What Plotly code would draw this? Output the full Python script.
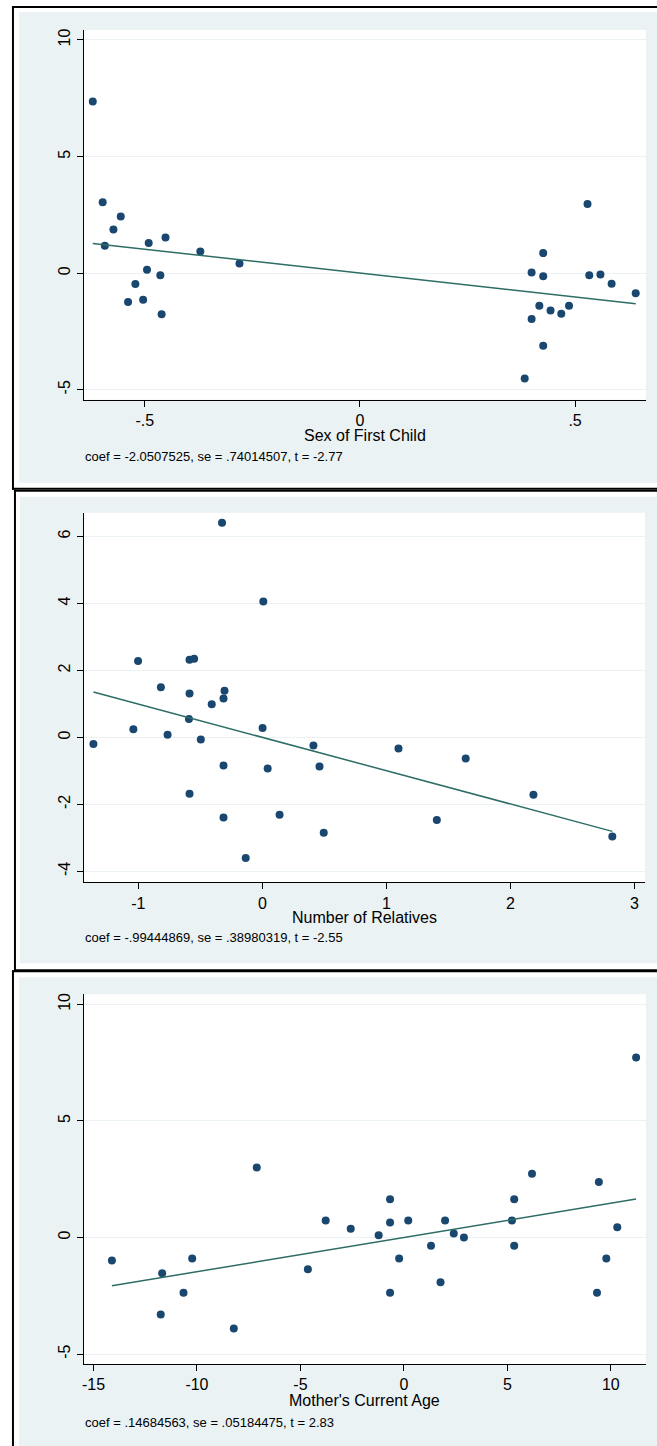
import numpy as np
import plotly.graph_objects as go

W, H = 657, 1446

# ---------------- data ----------------
sex_x = [-0.621, -0.598, -0.593, -0.573, -0.556, -0.491, -0.452, -0.371, -0.280,
         -0.495, -0.464, -0.522, -0.539, -0.504, -0.461,
         0.529, 0.426, 0.399, 0.426, 0.533, 0.559, 0.585, 0.641, 0.417,
         0.443, 0.468, 0.486, 0.399, 0.426, 0.383]
sex_y = [7.36, 3.04, 1.18, 1.87, 2.43, 1.29, 1.53, 0.93, 0.41,
         0.14, -0.09, -0.47, -1.24, -1.14, -1.76,
         2.97, 0.86, 0.03, -0.13, -0.09, -0.06, -0.45, -0.86, -1.40,
         -1.60, -1.74, -1.40, -1.97, -3.12, -4.52]
sex_coef = -2.0507525
sex_caption = "coef = -2.0507525, se = .74014507, t = -2.77"

rel_x = [-0.325, 0.008, -1.002, -0.587, -0.550, -0.818, -0.587, -0.305, -0.313,
         -0.408, -0.592, -1.040, -0.764, -0.496, -1.362, 0.002, 0.412, -0.313,
         0.043, 0.461, -0.587, 0.139, -0.313, 0.495, -0.134,
         1.098, 1.640, 2.186, 1.407, 2.822]
rel_y = [6.41, 4.06, 2.28, 2.32, 2.35, 1.50, 1.31, 1.39, 1.16,
         0.99, 0.55, 0.24, 0.08, -0.06, -0.20, 0.28, -0.24, -0.84,
         -0.93, -0.87, -1.68, -2.31, -2.39, -2.85, -3.60,
         -0.33, -0.63, -1.71, -2.47, -2.96]
rel_coef = -0.99444869
rel_caption = "coef = -.99444869, se = .38980319, t = -2.55"

age_x = [-14.11, -11.68, -10.23, -10.65, -11.75, -8.22, -7.11, -4.64, -3.78,
         -2.57, -1.22, -0.67, -0.67, -0.67, -0.23, 0.21, 1.31, 1.99, 2.41,
         2.90, 1.77, 5.22, 5.33, 5.33, 6.19, 9.42, 10.31, 9.78, 9.33, 11.22]
age_y = [-0.99, -1.54, -0.90, -2.37, -3.30, -3.90, 3.00, -1.36, 0.73,
         0.37, 0.09, 1.64, 0.64, -2.37, -0.90, 0.73, -0.36, 0.73, 0.17,
         0.00, -1.92, 0.73, 1.64, -0.36, 2.73, 2.38, 0.44, -0.90, -2.37, 7.72]
age_coef = 0.14684563
age_caption = "coef = .14684563, se = .05184475, t = 2.83"

x_titles = ["Sex of First Child", "Number of Relatives", "Mother's Current Age"]

sex_xticks = [-0.5, 0, 0.5]
sex_xtext = ["-.5", "0", ".5"]
rel_xticks = [-1, 0, 1, 2, 3]
rel_xtext = ["-1", "0", "1", "2", "3"]
age_xticks = [-15, -10, -5, 0, 5, 10]
age_xtext = ["-15", "-10", "-5", "0", "5", "10"]
y10_ticks = [-5, 0, 5, 10]
y6_ticks = [-4, -2, 0, 2, 4, 6]

# ---------------- style ----------------
BG = "#EAF2F3"
DOT = "#1A476F"
LINE = "#2D6D66"
FONT = "Liberation Sans, Arial, sans-serif"

def px(x):
    return x / W

def py(y):
    return 1 - y / H

panels = [
    dict(x=sex_x, y=sex_y, coef=sex_coef, cap=sex_caption, title=x_titles[0],
         xr=[-0.642, 0.665], yr=[-5.43, 10.43], xt=sex_xticks, xtt=sex_xtext, yt=y10_ticks,
         plot=(82, 646, 29, 399), title_y=435, cap_y=456),
    dict(x=rel_x, y=rel_y, coef=rel_coef, cap=rel_caption, title=x_titles[1],
         xr=[-1.44, 3.086], yr=[-4.33, 6.71], xt=rel_xticks, xtt=rel_xtext, yt=y6_ticks,
         plot=(82, 645, 512, 882), title_y=917, cap_y=937),
    dict(x=age_x, y=age_y, coef=age_coef, cap=age_caption, title=x_titles[2],
         xr=[-15.47, 11.70], yr=[-5.43, 10.43], xt=age_xticks, xtt=age_xtext, yt=y10_ticks,
         plot=(82, 646, 994, 1364), title_y=1400, cap_y=1422),
]

fig = go.Figure()
shapes = []
annotations = []

# backgrounds and frames (pixels)
bgs = [(17, 657, 11, 482), (18, 657, 496, 963), (17, 657, 977, 1446)]
for (x0, x1, y0, y1) in bgs:
    shapes.append(dict(type="rect", xref="paper", yref="paper", x0=px(x0), x1=px(x1),
                       y0=py(y1), y1=py(y0), fillcolor=BG, line=dict(width=0), layer="below"))
frames = [
    (10, 657, 5, 7), (10, 12, 5, 489), (10, 657, 487, 489),      # panel 1
    (12, 657, 489, 491), (12, 14, 489, 970), (12, 657, 969, 971),  # panel 2
    (10, 657, 970, 972), (10, 12, 970, 1446),                      # panel 3
]
for (x0, x1, y0, y1) in frames:
    shapes.append(dict(type="rect", xref="paper", yref="paper", x0=px(x0), x1=px(x1),
                       y0=py(y1), y1=py(y0), fillcolor="#000000", line=dict(width=0), layer="below"))

for i, p in enumerate(panels, start=1):
    xa = "x" if i == 1 else f"x{i}"
    ya = "y" if i == 1 else f"y{i}"
    xs = np.array(p["x"])
    lx = np.array([xs.min(), xs.max()])
    ly = p["coef"] * lx
    fig.add_trace(go.Scatter(x=xs, y=p["y"], mode="markers", xaxis=xa, yaxis=ya,
                             marker=dict(color=DOT, size=8, line=dict(width=0)),
                             showlegend=False, hoverinfo="x+y"))
    fig.add_trace(go.Scatter(x=lx, y=ly, mode="lines", xaxis=xa, yaxis=ya,
                             line=dict(color=LINE, width=1.5), showlegend=False))
    x0, x1, y0, y1 = p["plot"]
    # white plot region
    shapes.append(dict(type="rect", xref="paper", yref="paper", x0=px(x0), x1=px(x1),
                       y0=py(y1), y1=py(y0), fillcolor="white", line=dict(width=0), layer="below"))
    axis_common = dict(showline=True, linecolor="#000000", linewidth=1, ticks="outside",
                       ticklen=6, tickcolor="#000000", tickwidth=1, zeroline=False,
                       tickfont=dict(family=FONT, size=16, color="#000000"))
    fig.layout[("xaxis" if i == 1 else f"xaxis{i}")] = dict(
        domain=[px(x0), px(x1)], range=p["xr"], anchor=ya, showgrid=False,
        tickvals=p["xt"], ticktext=p["xtt"], **axis_common)
    fig.layout[("yaxis" if i == 1 else f"yaxis{i}")] = dict(
        domain=[py(y1), py(y0)], range=p["yr"], anchor=xa, showgrid=True,
        gridcolor=BG, gridwidth=1, tickvals=p["yt"], ticktext=[str(v) for v in p["yt"]],
        tickangle=-90, **axis_common)
    annotations.append(dict(text=p["title"], xref="paper", yref="paper",
                            x=px((x0 + x1) / 2), y=py(p["title_y"]), xanchor="center",
                            yanchor="middle", showarrow=False,
                            font=dict(family=FONT, size=16, color="#000000")))
    annotations.append(dict(text=p["cap"], xref="paper", yref="paper",
                            x=px(81), y=py(p["cap_y"]), xanchor="left",
                            yanchor="middle", showarrow=False,
                            font=dict(family=FONT, size=13, color="#000000")))

fig.update_layout(width=W, height=H, margin=dict(l=0, r=0, t=0, b=0),
                  paper_bgcolor="white", plot_bgcolor="rgba(0,0,0,0)",
                  shapes=shapes, annotations=annotations, showlegend=False)

fig.write_html("out.html", config={"displayModeBar": False},
               post_script="document.body.style.margin='0';document.body.style.overflow='hidden';")
